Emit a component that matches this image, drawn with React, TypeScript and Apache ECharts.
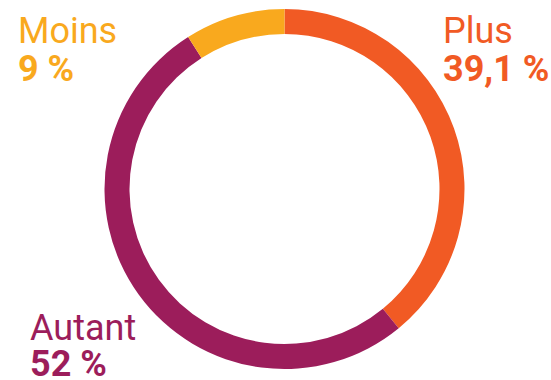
import React, { useEffect, useRef } from "react";
import * as echarts from "echarts";

const categories = ["Plus", "Autant", "Moins"];
const values = [39.1, 52, 9];
const valueLabels = ["39,1 %", "52 %", "9 %"];
const colors = ["#F15A24", "#9C1D5B", "#F9A91E"];
const labelPos = [
  { x: 443, y: 12.5, lh: 37.5 },
  { x: 30, y: 310.5, lh: 35.5 },
  { x: 18, y: 12.5, lh: 37.5 },
];

export default function App() {
  const ref = useRef<HTMLDivElement>(null);
  useEffect(() => {
    document.body.style.margin = "0";
    const chart = echarts.init(ref.current!, null, { renderer: "svg" });
    chart.setOption({
      animation: false,
      series: [
        {
          type: "pie",
          center: [284.5, 189],
          radius: [155, 180],
          startAngle: 90,
          clockwise: true,
          silent: true,
          labelLine: { show: false },
          label: {
            show: true,
            position: "inside",
            overflow: "none",
            formatter: (p: any) => `{n|${p.name}}\n{v|${valueLabels[p.dataIndex]}}`,
          },
          labelLayout: (p: any) => ({
            x: labelPos[p.dataIndex].x,
            y: labelPos[p.dataIndex].y,
            align: "left",
            verticalAlign: "top",
          }),
          data: categories.map((c, i) => ({
            name: c,
            value: values[i],
            itemStyle: { color: colors[i] },
            label: {
              rich: {
                n: {
                  fontFamily: "Roboto",
                  fontSize: 36,
                  fontWeight: 400,
                  color: colors[i],
                  lineHeight: labelPos[i].lh,
                  align: "left",
                },
                v: {
                  fontFamily: "Roboto",
                  fontSize: 36,
                  fontWeight: 700,
                  color: colors[i],
                  lineHeight: labelPos[i].lh,
                  align: "left",
                },
              },
            },
          })),
        },
      ],
    });
    return () => chart.dispose();
  }, []);
  return <div ref={ref} style={{ width: 551, height: 380 }} />;
}
